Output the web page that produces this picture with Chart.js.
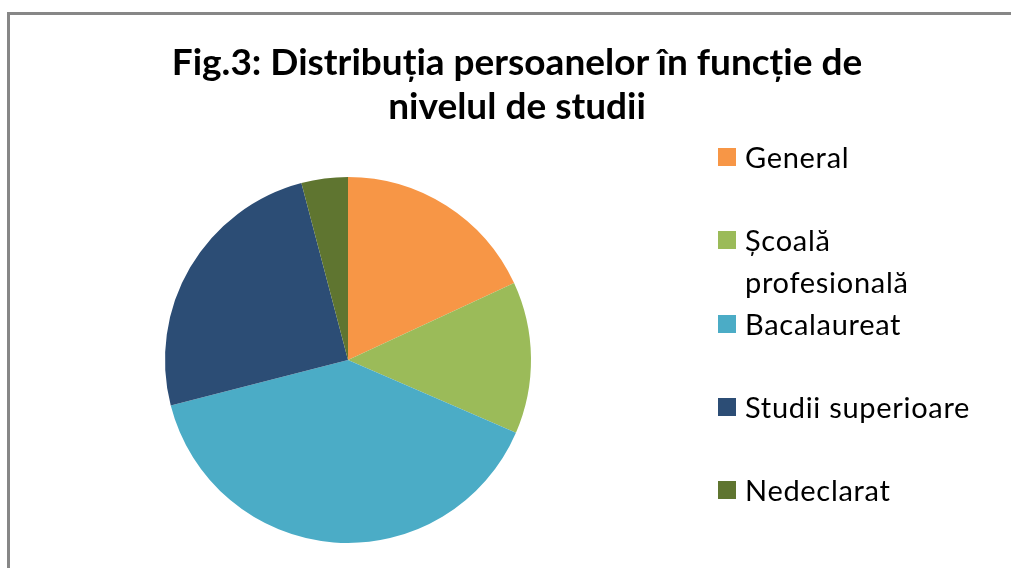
<!DOCTYPE html>
<html>
<head>
<meta charset="utf-8">
<script src="https://cdn.jsdelivr.net/npm/chart.js@4"></script>
<style>
    html, body { margin: 0; padding: 0; background: #fff; }
    body { width: 1011px; height: 568px; position: relative; overflow: hidden; }
    #frame {
        position: absolute; left: 7px; top: 12px; width: 1010px; height: 570px;
        border-left: 3px solid #878787; border-top: 3px solid #878787;
        box-sizing: border-box;
    }
    #chart { position: absolute; left: 0; top: 0; }
    #title {
        position: absolute; left: 0; width: 1034px; top: 39px; text-align: center;
        font-family: Lato, sans-serif; font-weight: bold; font-size: 37px; line-height: 44px; color: #000;
    }
    .item {
        position: absolute; left: 718px; font-family: Lato, sans-serif; font-size: 29px;
        letter-spacing: 0.7px; line-height: 42px; color: #000;
    }
    .item .box { position: absolute; left: 0; top: 12px; width: 18px; height: 18px; }
    .item .txt { position: absolute; left: 27px; top: 0; white-space: nowrap; }
</style>
</head>
<body>
<div id="frame"></div>
<canvas id="chart" width="1011" height="568"></canvas>
<div id="title">Fig.3: Distribuția persoanelor în funcție de<br>nivelul de studii</div>
<div id="legend"></div>
<script>
// Distribution by education level (%)
const categories = ['General', 'Școală profesională', 'Bacalaureat', 'Studii superioare', 'Nedeclarat'];
const legendLines = [['General'], ['Școală', 'profesională'], ['Bacalaureat'], ['Studii superioare'], ['Nedeclarat']];
const shares = [18.1, 13.4, 39.5, 24.9, 4.1];
const colors = ['#F79646', '#9BBB59', '#4BACC6', '#2C4D75', '#5F7530'];

// Legend (first line of each entry spaced evenly)
const legend = document.getElementById('legend');
categories.forEach((cat, i) => {
    const div = document.createElement('div');
    div.className = 'item';
    div.style.top = (136 + i * 83.25) + 'px';
    div.innerHTML = `<span class="box" style="background:${colors[i]}"></span>` +
        `<span class="txt">${legendLines[i].join('<br>')}</span>`;
    legend.appendChild(div);
});

new Chart(document.getElementById('chart').getContext('2d'), {
    type: 'pie',
    data: {
        labels: categories,
        datasets: [{
            data: shares,
            backgroundColor: colors,
            borderWidth: 0
        }]
    },
    options: {
        responsive: false,
        animation: false,
        layout: {
            padding: { left: 165, top: 177, right: 480, bottom: 25 }
        },
        plugins: {
            legend: { display: false },
            title: { display: false },
            tooltip: { enabled: false }
        }
    }
});
</script>
</body>
</html>
